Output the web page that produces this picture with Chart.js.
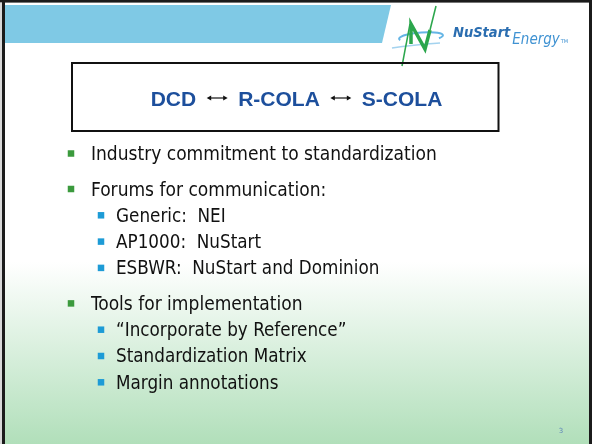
<!DOCTYPE html>
<html lang="en">
  <head>
    <meta charset="UTF-8" />
    <title>NuStart slide 3</title>
    <script src="https://cdn.jsdelivr.net/npm/chart.js"></script>
    <style>
      html, body { margin: 0; padding: 0; background: #ffffff; }
      canvas { display: block; }
    </style>
  </head>
  <body>
    <canvas id="slide" width="592" height="444"></canvas>

    <script>
      // slide content
      const titleParts = ["DCD", "R-COLA", "S-COLA"];
      const bulletText = [
        "Industry commitment to standardization",
        "Forums for communication:",
        "Generic:  NEI",
        "AP1000:  NuStart",
        "ESBWR:  NuStart and Dominion",
        "Tools for implementation",
        "\u201CIncorporate by Reference\u201D",
        "Standardization Matrix",
        "Margin annotations",
      ];
      const bulletLevel = [1, 1, 2, 2, 2, 1, 2, 2, 2];
      const pageNumber = "3";

      // layout of the bullet list (slide units = pixels of a 592x444 slide)
      const listTop = 153.5;
      const gapLevel1 = 35.5;
      const gapLevel2 = 26.3;
      const bulletX = { 1: 71, 2: 101 };
      const textX = { 1: 91, 2: 116 };

      const lineY = [];
      bulletLevel.forEach((lvl, i) => {
        if (i === 0) lineY.push(listTop);
        else lineY.push(lineY[i - 1] + (lvl === 1 ? gapLevel1 : gapLevel2));
      });
      const level1Points = [];
      const level2Points = [];
      bulletLevel.forEach((lvl, i) => {
        const p = { x: bulletX[lvl], y: lineY[i], text: bulletText[i] };
        (lvl === 1 ? level1Points : level2Points).push(p);
      });

      // background, frame, header band and logo
      const slideBackground = {
        id: "slideBackground",
        beforeDraw(chart) {
          const ctx = chart.ctx;
          const xs = chart.scales.x, ys = chart.scales.y;
          const X = (v) => xs.getPixelForValue(v);
          const Y = (v) => ys.getPixelForValue(v);
          ctx.save();
          const g = ctx.createLinearGradient(0, Y(262), 0, Y(444));
          g.addColorStop(0, "#ffffff");
          g.addColorStop(1, "#b1dfba");
          ctx.fillStyle = g;
          ctx.fillRect(0, 0, chart.width, chart.height);

          // frame
          ctx.fillStyle = "#1b1b1b";
          ctx.fillRect(0, 0, chart.width, Y(2.6));
          ctx.fillRect(X(2), 0, 3, chart.height);
          ctx.fillRect(X(589), 0, 3, chart.height);
          ctx.fillStyle = "#d8d8d8";
          ctx.fillRect(0, Y(2.6), X(2), chart.height);

          // header band
          ctx.fillStyle = "#7fc9e5";
          ctx.beginPath();
          ctx.moveTo(X(5), Y(5));
          ctx.lineTo(X(391), Y(5));
          ctx.lineTo(X(382), Y(43));
          ctx.lineTo(X(5), Y(43));
          ctx.closePath();
          ctx.fill();

          // logo swoosh
          ctx.strokeStyle = "rgba(74,168,224,0.85)";
          ctx.lineWidth = 2;
          ctx.beginPath();
          ctx.ellipse(X(421), Y(37), 22, 4.5, -0.08, Math.PI * 0.9, Math.PI * 2.2);
          ctx.stroke();
          ctx.strokeStyle = "rgba(74,168,224,0.5)";
          ctx.lineWidth = 1.5;
          ctx.beginPath();
          ctx.moveTo(X(392), Y(48));
          ctx.quadraticCurveTo(X(412), Y(45), X(440), Y(43));
          ctx.stroke();

          // logo N bolt
          ctx.strokeStyle = "#2ba64c";
          ctx.lineJoin = "miter";
          ctx.lineWidth = 1.5;
          ctx.beginPath();
          ctx.moveTo(X(402), Y(66));
          ctx.lineTo(X(410), Y(24));
          ctx.stroke();
          ctx.lineWidth = 3.5;
          ctx.beginPath();
          ctx.moveTo(X(411), Y(44));
          ctx.lineTo(X(411), Y(24));
          ctx.lineTo(X(425), Y(49));
          ctx.lineTo(X(430), Y(30));
          ctx.stroke();
          ctx.lineWidth = 1.5;
          ctx.beginPath();
          ctx.moveTo(X(430), Y(30));
          ctx.lineTo(X(436), Y(6));
          ctx.stroke();

          // logo text
          ctx.textBaseline = "alphabetic";
          ctx.fillStyle = "#2a6db0";
          ctx.font = 'italic bold 14.5px "DejaVu Sans Condensed", "DejaVu Sans"';
          ctx.fillText("NuStart", X(453), Y(37));
          const w = ctx.measureText("NuStart").width;
          ctx.fillStyle = "#3f92d2";
          ctx.font = 'italic 15px "DejaVu Sans Condensed", "DejaVu Sans"';
          ctx.fillText("Energy", X(453) + w + 2, Y(44));
          const w2 = ctx.measureText("Energy").width;
          ctx.font = "5px DejaVu Sans";
          ctx.fillText("TM", X(453) + w + w2 + 3, Y(43));
          ctx.restore();
        },
      };

      // title box and all text
      const slideText = {
        id: "slideText",
        afterDatasetsDraw(chart) {
          const ctx = chart.ctx;
          const xs = chart.scales.x, ys = chart.scales.y;
          const X = (v) => xs.getPixelForValue(v);
          const Y = (v) => ys.getPixelForValue(v);
          ctx.save();

          // title box
          ctx.strokeStyle = "#111111";
          ctx.lineWidth = 2;
          ctx.strokeRect(X(72), Y(63), X(498.5) - X(72), Y(131) - Y(63));

          // title: DCD <-> R-COLA <-> S-COLA
          ctx.font = 'bold 21px "Liberation Sans", Arial';
          ctx.textBaseline = "alphabetic";
          const arrowLen = 21, gap = 10.5;
          const widths = titleParts.map((t) => ctx.measureText(t).width);
          const total = widths.reduce((a, b) => a + b, 0) +
            (titleParts.length - 1) * (arrowLen + 2 * gap);
          let cx = X(296.5) - total / 2;
          const base = Y(105.5), ay = Y(98);
          titleParts.forEach((t, i) => {
            ctx.fillStyle = "#1d4f9c";
            ctx.fillText(t, cx, base);
            cx += widths[i];
            if (i < titleParts.length - 1) {
              const a0 = cx + gap, a1 = a0 + arrowLen;
              ctx.strokeStyle = "#111111";
              ctx.fillStyle = "#111111";
              ctx.lineWidth = 1.2;
              ctx.beginPath();
              ctx.moveTo(a0 + 2, ay);
              ctx.lineTo(a1 - 2, ay);
              ctx.stroke();
              ctx.beginPath();
              ctx.moveTo(a0, ay);
              ctx.lineTo(a0 + 4.5, ay - 2.6);
              ctx.lineTo(a0 + 4.5, ay + 2.6);
              ctx.closePath();
              ctx.fill();
              ctx.beginPath();
              ctx.moveTo(a1, ay);
              ctx.lineTo(a1 - 4.5, ay - 2.6);
              ctx.lineTo(a1 - 4.5, ay + 2.6);
              ctx.closePath();
              ctx.fill();
              cx = a1 + gap;
            }
          });

          // bullet texts
          ctx.fillStyle = "#111111";
          bulletText.forEach((t, i) => {
            const lvl = bulletLevel[i];
            ctx.font = lvl === 1
              ? '19px "DejaVu Sans Condensed", "DejaVu Sans"'
              : '18.7px "DejaVu Sans Condensed", "DejaVu Sans"';
            ctx.fillText(t, X(textX[lvl]), Y(lineY[i] + (lvl === 1 ? 6.8 : 6.3)));
          });

          // page number
          ctx.fillStyle = "#5f86b8";
          ctx.font = '7px "DejaVu Sans"';
          ctx.textAlign = "center";
          ctx.fillText(pageNumber, X(561), Y(433));
          ctx.restore();
        },
      };

      const slideChart = new Chart(document.getElementById("slide"), {
        type: "scatter",
        data: {
          datasets: [
            {
              label: "level 1",
              data: level1Points,
              pointStyle: "rect",
              pointRadius: 4.6,
              pointHoverRadius: 4.6,
              backgroundColor: "#3b9a3d",
              borderWidth: 0,
            },
            {
              label: "level 2",
              data: level2Points,
              pointStyle: "rect",
              pointRadius: 4.6,
              pointHoverRadius: 4.6,
              backgroundColor: "#1d9bd6",
              borderWidth: 0,
            },
          ],
        },
        options: {
          responsive: false,
          animation: false,
          events: [],
          layout: { padding: 0, autoPadding: false },
          scales: {
            x: { type: "linear", min: 0, max: 592, display: false },
            y: { type: "linear", min: 0, max: 444, reverse: true, display: false },
          },
          plugins: {
            legend: { display: false },
            tooltip: { enabled: false },
          },
        },
        plugins: [slideBackground, slideText],
      });
    </script>
  </body>
</html>
